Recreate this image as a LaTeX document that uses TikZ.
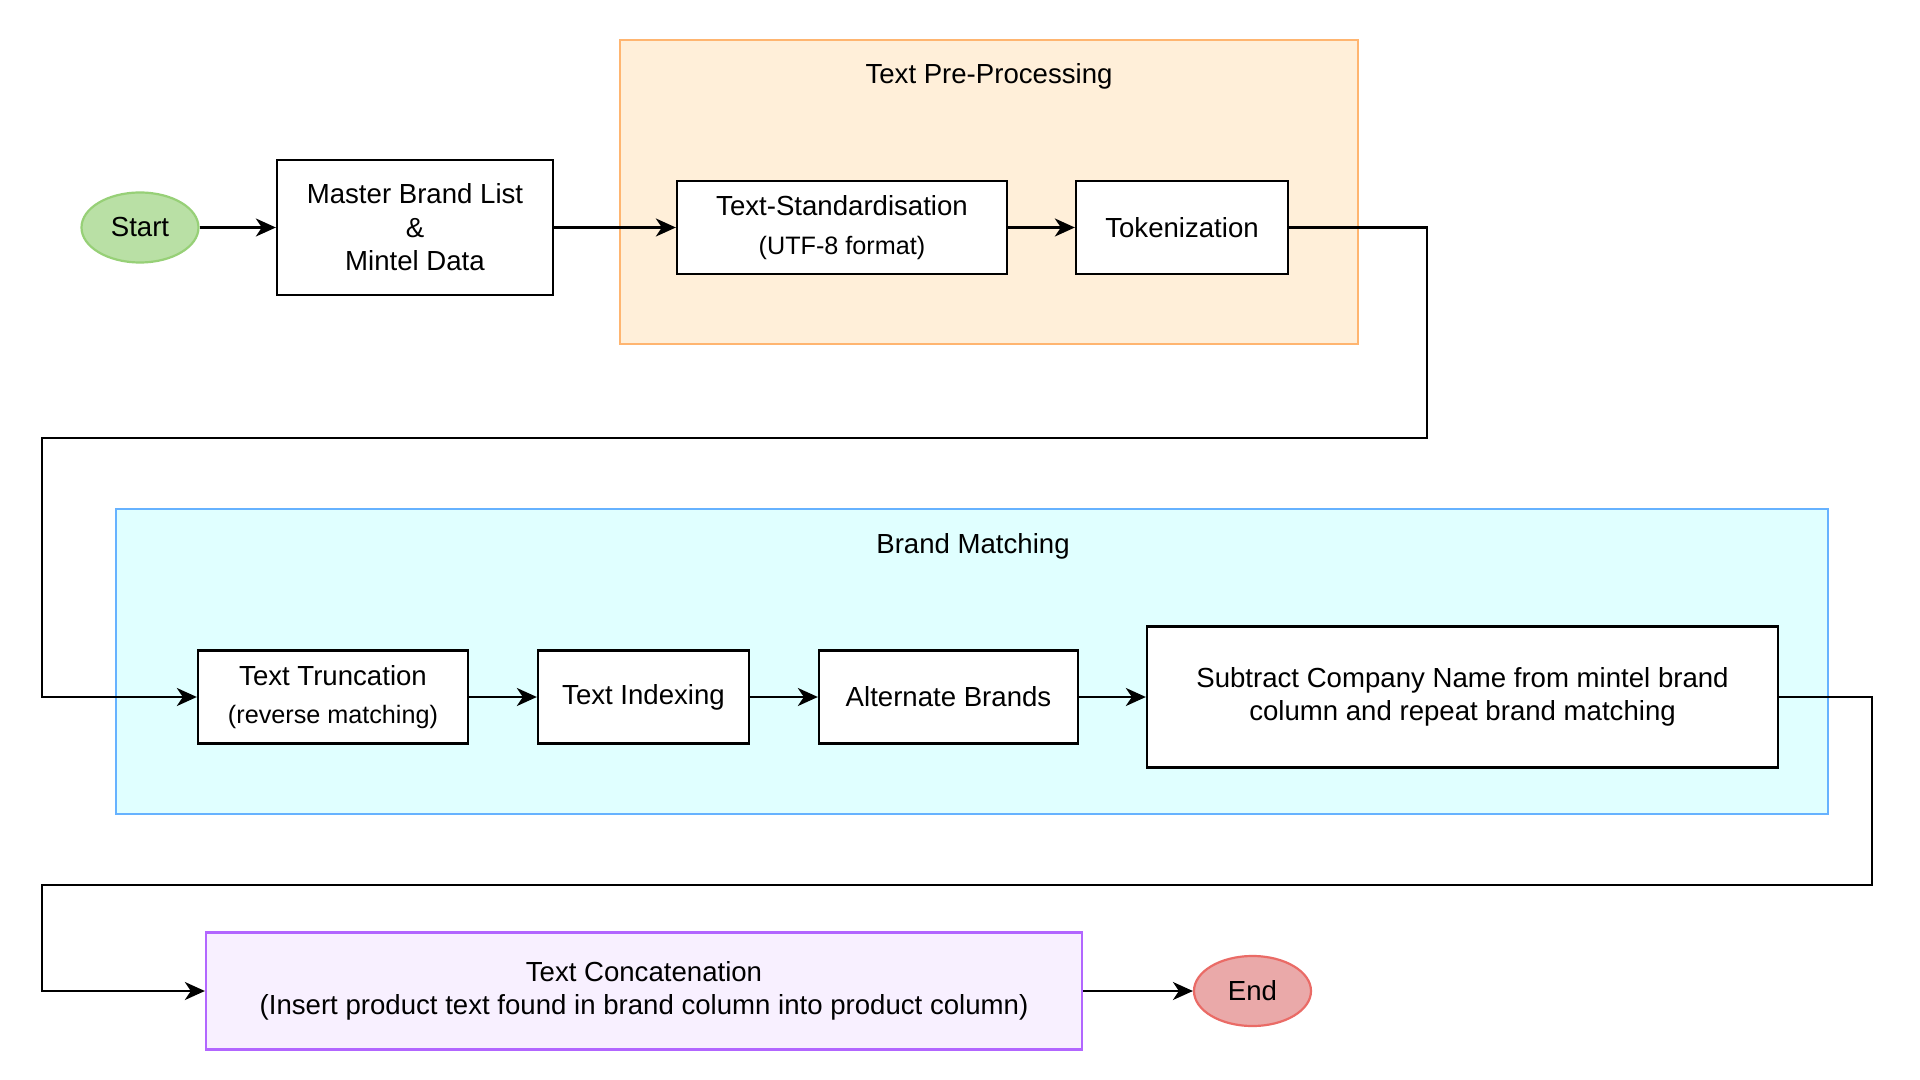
\documentclass[tikz,border=0pt]{standalone}
\usepackage{fontspec}
\setmainfont{Liberation Sans}
\usetikzlibrary{arrows.meta,shapes.geometric}
\definecolor{orfill}{HTML}{FFEFD9}
\definecolor{ordraw}{HTML}{FFB570}
\definecolor{blfill}{HTML}{E0FFFF}
\definecolor{bldraw}{HTML}{66B2FF}
\definecolor{pufill}{HTML}{F8F0FF}
\definecolor{pudraw}{HTML}{B266FF}
\definecolor{gnfill}{HTML}{B9E0A5}
\definecolor{gndraw}{HTML}{97D077}
\definecolor{rdfill}{HTML}{EAA9A9}
\definecolor{rddraw}{HTML}{EA6B66}
\newcommand{\mysubsize}{\fontsize{12.6}{15}\selectfont}
\tikzset{
  mainfont/.style={font=\fontsize{13.8}{16.8}\selectfont},
  procbox/.style={draw=black, line width=1.15pt, fill=white, rectangle, align=center, inner sep=2pt, mainfont},
  groupbox/.style={rectangle, line width=1.1pt, inner sep=0pt},
  term/.style={ellipse, line width=1.1pt, inner sep=0pt, mainfont},
  arr/.style={draw=black, line width=1.15pt, -{Stealth[length=10pt,width=9pt,inset=3pt]}}
}
\begin{document}
\begin{tikzpicture}[x=0.5pt,y=-0.5pt]
\path[use as bounding box] (0,0) rectangle (1920,1080);
\fill[white] (0,0) rectangle (1920,1080);

% groups
\node[groupbox, draw=ordraw, fill=orfill, minimum width=369pt, minimum height=152pt] (grpA) at (989,192) {};
\node[mainfont] (titleA) at (989,76.5) {Text Pre-Processing};
\node[groupbox, draw=bldraw, fill=blfill, minimum width=856pt, minimum height=152.5pt] (grpB) at (972,661.5) {};
\node[mainfont] (titleB) at (973,546.5) {Brand Matching};

% nodes
\node[term, draw=gndraw, fill=gnfill, minimum width=58.5pt, minimum height=35pt] (start) at (140,227.5) {Start};
\node[procbox, minimum width=138pt, minimum height=67.5pt] (master) at (415,227.5) {Master Brand List\\\&\\Mintel Data};
\node[procbox, minimum width=165pt, minimum height=46.5pt] (std) at (842,227.5) {Text-Standardisation\\[2.5pt]{\mysubsize (UTF-8 format)}};
\node[procbox, minimum width=106pt, minimum height=46.5pt] (tok) at (1182,227.5) {Tokenization};

\node[procbox, minimum width=135pt, minimum height=46.5pt] (trunc) at (333,697) {Text Truncation\\[2.5pt]{\mysubsize (reverse matching)}};
\node[procbox, minimum width=105.5pt, minimum height=46.5pt] (idx) at (643.5,697) {Text Indexing};
\node[procbox, minimum width=129.5pt, minimum height=46.5pt] (alt) at (948.5,697) {Alternate Brands};
\node[procbox, minimum width=315.5pt, minimum height=70.5pt] (sub) at (1462.5,697) {Subtract Company Name from mintel brand\\column and repeat brand matching};

\node[procbox, draw=pudraw, fill=pufill, minimum width=438pt, minimum height=58.5pt] (cat) at (644,991) {Text Concatenation\\(Insert product text found in brand column into product column)};
\node[term, draw=rddraw, fill=rdfill, minimum width=58.5pt, minimum height=35pt] (end) at (1252.5,991) {End};

% connector bends
\coordinate (k1) at (1427,438);
\coordinate (k2) at (42,438);
\coordinate (k3) at (1872,885);
\coordinate (k4) at (42,885);

% connectors
\draw[arr] (start) -- (master);
\draw[arr] (master) -- (std);
\draw[arr] (std) -- (tok);
\draw[arr] (tok.east) -| (k1) -- (k2) |- (trunc.west);
\draw[arr] (trunc) -- (idx);
\draw[arr] (idx) -- (alt);
\draw[arr] (alt) -- (sub);
\draw[arr] (sub.east) -| (k3) -- (k4) |- (cat.west);
\draw[arr] (cat) -- (end);
\end{tikzpicture}
\end{document}
